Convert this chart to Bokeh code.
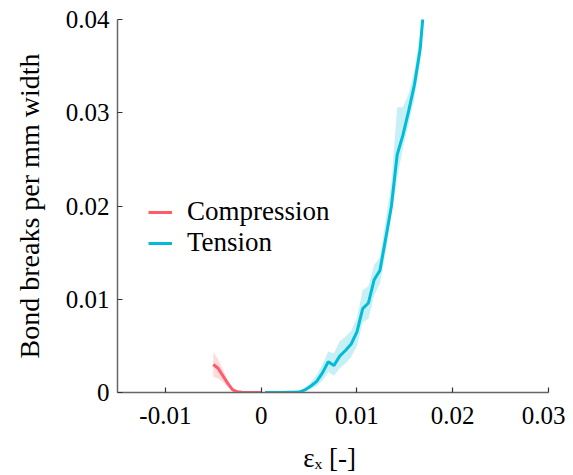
from bokeh.plotting import figure
from bokeh.models import ColumnDataSource, FixedTicker, Legend, LegendItem, Range1d
from bokeh.embed import file_html
from bokeh.resources import INLINE

# ---- data ----
comp_x = [-0.0050, -0.0045, -0.0040, -0.0035, -0.0030, -0.0025, -0.0020, -0.0015, -0.0010, -0.0005, 0.0]
comp_y = [0.0030, 0.0026, 0.0018, 0.0010, 0.0003, 0.00008, 0.00002, 0.0, 0.0, 0.0, 0.0]
comp_hi = [0.0043, 0.0036, 0.0025, 0.0013, 0.0004, 0.0001, 0.00003, 0.0, 0.0, 0.0, 0.0]
comp_lo = [0.0017, 0.0015, 0.0011, 0.0006, 0.0002, 0.00005, 0.00001, 0.0, 0.0, 0.0, 0.0]

tens_x = [0.0004, 0.0010, 0.0016, 0.0022, 0.0028, 0.0034, 0.0040, 0.0046, 0.0052, 0.0058,
          0.0064, 0.0070, 0.0076, 0.0082, 0.0088, 0.0094, 0.0100, 0.0106, 0.0112, 0.0118,
          0.0124, 0.0130, 0.0136, 0.0142, 0.0148, 0.0154, 0.0160, 0.0166, 0.0172]
tens_y = [0.0, 0.0, 0.0, 0.00001, 0.00002, 0.00003, 0.00005, 0.0003, 0.0007, 0.0012,
          0.0021, 0.0033, 0.0029, 0.0039, 0.0045, 0.0052, 0.0065, 0.0090, 0.0096, 0.0121,
          0.0131, 0.0165, 0.0200, 0.0255, 0.0276, 0.0302, 0.0330, 0.0368, 0.0440]
tens_hi = [0.0, 0.0, 0.0, 0.00002, 0.00003, 0.00005, 0.0001, 0.0005, 0.0011, 0.0019,
           0.0030, 0.0044, 0.0042, 0.0055, 0.0060, 0.0066, 0.0080, 0.0110, 0.0114, 0.0137,
           0.0145, 0.0185, 0.0225, 0.0306, 0.0306, 0.0320, 0.0345, 0.0385, 0.0460]
tens_lo = [0.0, 0.0, 0.0, 0.0, 0.00001, 0.00002, 0.00003, 0.0001, 0.0004, 0.0007,
           0.0013, 0.0022, 0.0018, 0.0026, 0.0031, 0.0038, 0.0050, 0.0075, 0.0079, 0.0104,
           0.0117, 0.0150, 0.0190, 0.0230, 0.0262, 0.0288, 0.0315, 0.0355, 0.0440]

x_ticks = [-0.01, 0.0, 0.01, 0.02, 0.03]
x_tick_labels = ["-0.01", "0", "0.01", "0.02", "0.03"]
y_ticks = [0.0, 0.01, 0.02, 0.03, 0.04]
y_tick_labels = ["0", "0.01", "0.02", "0.03", "0.04"]

RED = "#ff5c68"
CYAN = "#00bcd6"
FONT = "Liberation Serif"

p = figure(width=565, height=467, output_backend="svg", toolbar_location=None,
           x_range=Range1d(-0.015, 0.03), y_range=Range1d(0.0, 0.04),
           min_border_left=117, min_border_right=17, min_border_top=19, min_border_bottom=75,
           frame_width=431, frame_height=373)
p.grid.visible = False
p.outline_line_color = None
p.background_fill_color = "white"
p.border_fill_color = "white"

src_c = ColumnDataSource(dict(x=comp_x, y=comp_y, hi=comp_hi, lo=comp_lo))
src_t = ColumnDataSource(dict(x=tens_x, y=tens_y, hi=tens_hi, lo=tens_lo))

p.varea(x="x", y1="lo", y2="hi", source=src_c, fill_color=RED, fill_alpha=0.22)
p.varea(x="x", y1="lo", y2="hi", source=src_t, fill_color=CYAN, fill_alpha=0.22)
lc = p.line("x", "y", source=src_c, line_color=RED, line_width=3)
lt = p.line("x", "y", source=src_t, line_color=CYAN, line_width=3)

for ax, ticks, labels in ((p.xaxis[0], x_ticks, x_tick_labels), (p.yaxis[0], y_ticks, y_tick_labels)):
    ax.ticker = FixedTicker(ticks=ticks)
    ax.major_label_overrides = {t: l for t, l in zip(ticks, labels)}
    ax.major_tick_in = 5
    ax.major_tick_out = 0
    ax.minor_tick_line_color = None
    ax.axis_line_color = "#666666"
    ax.axis_line_width = 1.5
    ax.major_tick_line_color = "#333333"
    ax.major_tick_line_width = 1.2
    ax.major_label_text_font = FONT
    ax.major_label_text_font_size = "25px"
    ax.major_label_text_color = "black"
    ax.axis_label_text_font = FONT
    ax.axis_label_text_font_size = "27px"
    ax.axis_label_text_font_style = "normal"
    ax.axis_label_text_color = "black"

p.xaxis.major_label_standoff = 14
p.yaxis.major_label_standoff = 8
p.xaxis.axis_label = "εₓ  [-]"
p.xaxis.axis_label_standoff = 16
p.yaxis.axis_label = "Bond breaks per mm width"
p.yaxis.axis_label_text_font_size = "28px"
p.yaxis.axis_label_standoff = 18

legend = Legend(items=[LegendItem(label="Compression", renderers=[lc]),
                       LegendItem(label="Tension", renderers=[lt])],
                location=(31, 134), padding=0, margin=0, spacing=0,
                label_height=28, glyph_height=28, glyph_width=24, label_standoff=15,
                background_fill_alpha=0, border_line_color=None,
                label_text_font=FONT, label_text_font_size="27px", label_text_color="black")
p.add_layout(legend, "center")

open("out.html", "w").write(file_html(p, INLINE))
